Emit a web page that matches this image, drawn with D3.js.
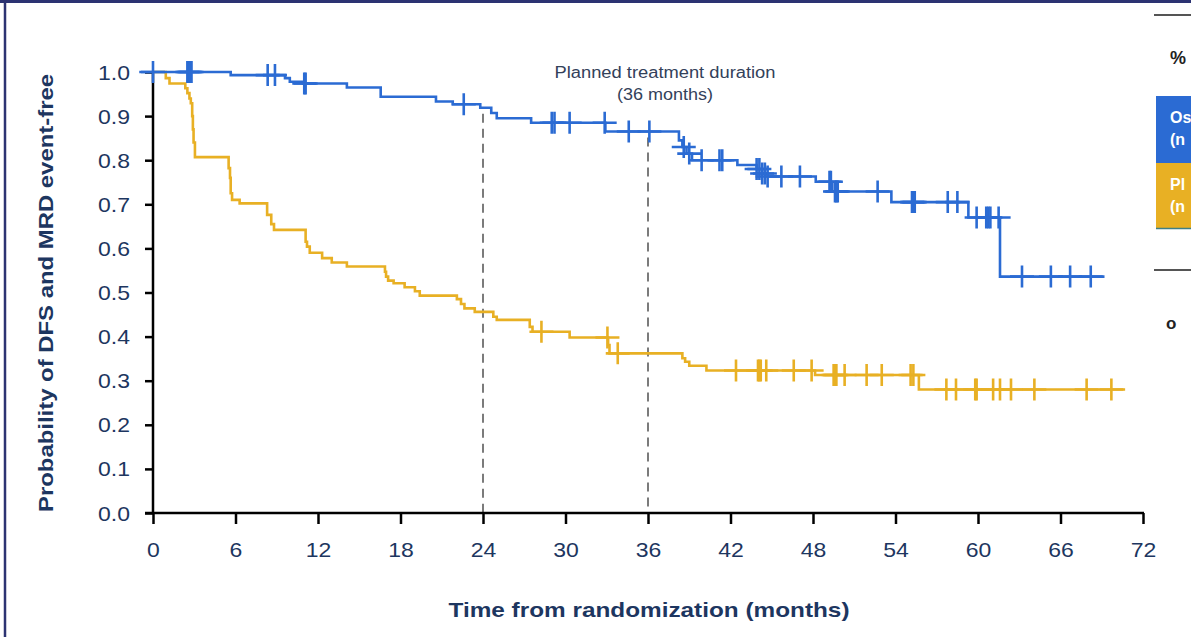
<!DOCTYPE html>
<html>
<head>
<meta charset="utf-8">
<script src="https://cdn.jsdelivr.net/npm/d3@7"></script>
<style>
  html, body { margin: 0; padding: 0; background: #fff; }
  svg { display: block; font-family: "Liberation Sans", Arial, sans-serif; }
</style>
</head>
<body>
<svg id="chart" width="1191" height="637"></svg>
<script>
// ---------------- data ----------------
const xTicks = [0, 6, 12, 18, 24, 30, 36, 42, 48, 54, 60, 66, 72];
const yTicks = [0, 0.1, 0.2, 0.3, 0.4, 0.5, 0.6, 0.7, 0.8, 0.9, 1.0];

// Osimertinib (blue) Kaplan-Meier steps: time of step, survival after step
const osiTime = [-1, 5.65, 9.6, 9.95, 10.9, 14.1, 16.56, 20.58, 21.8, 23.8, 24.6, 25.0, 27.5, 32.9, 38.25, 38.5, 38.8, 39.2, 42.5, 43.9, 44.3, 44.7, 48.2, 49.4, 53.7, 59.3, 61.6];
const osiSurv = [1.0, 0.993, 0.986, 0.978, 0.974, 0.965, 0.944, 0.933, 0.927, 0.919, 0.907, 0.895, 0.885, 0.865, 0.845, 0.83, 0.815, 0.80, 0.789, 0.78, 0.77, 0.763, 0.751, 0.729, 0.705, 0.67, 0.536];
const osiEnd = 69.2;
const osiCensor = [0, 2.5, 2.6, 2.7, 2.8, 8.34, 8.87, 11.0, 11.1, 22.6, 29.0, 29.2, 30.3, 32.85, 34.6, 36.1, 38.6, 39.0, 39.9, 41.2, 41.4, 43.9, 44.1, 44.3, 44.5, 44.7, 45.7, 47.05, 49.2, 49.3, 49.6, 49.7, 49.8, 52.7, 55.2, 55.3, 55.4, 57.8, 58.5, 59.9, 60.6, 60.75, 60.9, 61.5, 63.2, 65.3, 66.7, 68.2];

// Placebo (yellow)
const plcTime = [0, 0.93, 1.2, 2.35, 2.5, 2.65, 2.75, 2.85, 2.9, 2.95, 3.05, 5.5, 5.6, 5.65, 5.75, 6.3, 8.3, 8.6, 8.8, 11.1, 11.2, 11.4, 12.3, 13.0, 14.1, 16.87, 16.95, 17.1, 17.5, 18.3, 19.05, 19.4, 22.1, 22.4, 22.65, 23.4, 24.75, 25.0, 27.4, 27.6, 30.3, 33.1, 33.2, 38.5, 38.7, 39.0, 40.25, 48.15, 55.7];
const plcSurv = [1.0, 0.986, 0.974, 0.963, 0.952, 0.94, 0.929, 0.90, 0.87, 0.84, 0.807, 0.782, 0.76, 0.725, 0.71, 0.702, 0.676, 0.655, 0.642, 0.615, 0.604, 0.59, 0.578, 0.568, 0.559, 0.547, 0.536, 0.527, 0.521, 0.512, 0.503, 0.493, 0.485, 0.474, 0.464, 0.456, 0.445, 0.438, 0.422, 0.411, 0.398, 0.381, 0.362, 0.351, 0.343, 0.334, 0.323, 0.313, 0.28];
const plcEnd = 70.7;
const plcCensor = [28.25, 33.05, 33.8, 42.4, 44.0, 44.1, 44.2, 44.6, 46.6, 47.9, 49.5, 49.6, 49.7, 50.3, 51.9, 53.0, 55.1, 55.3, 57.7, 58.4, 59.8, 59.9, 61.1, 61.6, 62.4, 64.1, 67.9, 69.7];

const plannedMarks = [24, 36];
const annotationLines = ["Planned treatment duration", "(36 months)"];
const xTitle = "Time from randomization (months)";
const yTitle = "Probability of DFS and MRD event-free";
const tableHeader = "%";
const tableRows = [["Os", "(n"], ["Pl", "(n"]];
const tableFoot = "o";

// ---------------- drawing ----------------
const BLUE = "#2b6bd3", YELLOW = "#e8b024", NAVY = "#1d3660";
const svg = d3.select("#chart");
const x = d3.scaleLinear().domain([0, 72]).range([153, 1143]);
const y = d3.scaleLinear().domain([0, 1]).range([513, 72]);

// frame (top & left edge of a box)
svg.append("line").attr("x1", 0).attr("x2", 1191).attr("y1", 1.5).attr("y2", 1.5)
  .attr("stroke", "#2c3372").attr("stroke-width", 3);
svg.append("line").attr("x1", 5).attr("x2", 5).attr("y1", 0).attr("y2", 637)
  .attr("stroke", "#2c3372").attr("stroke-width", 2.5);

function stepAt(times, surv, t) {
  let v = surv[0];
  for (let i = 0; i < times.length; i++) { if (times[i] <= t) v = surv[i]; }
  return v;
}

// dashed planned lines
svg.append("g").selectAll("line").data(plannedMarks).join("line")
  .attr("x1", d => x(d)).attr("x2", d => x(d))
  .attr("y1", d => y(stepAt(osiTime, osiSurv, d)) + 6).attr("y2", y(0))
  .attr("stroke", "#7b7b7b").attr("stroke-width", 2).attr("stroke-dasharray", "9,6");

// axes
const yAxis = d3.axisLeft(y).tickValues(yTicks).tickFormat(d3.format(".1f")).tickSize(8).tickSizeOuter(0);
const xAxis = d3.axisBottom(x).tickValues(xTicks).tickSize(11).tickSizeOuter(0);
const gy = svg.append("g").attr("transform", "translate(153,0)").call(yAxis);
const gx = svg.append("g").attr("transform", "translate(0,513)").call(xAxis);
[gx, gy].forEach(g => {
  g.select(".domain").remove();
  g.selectAll(".tick line").attr("stroke", "#000").attr("stroke-width", 2.5);
  g.selectAll(".tick text").attr("fill", NAVY).attr("font-size", 20).attr("font-family", "Liberation Sans, Arial, sans-serif");
});
gy.selectAll(".tick text").attr("x", 0).attr("dy", "0.35em")
  .attr("transform", "translate(-23,0) scale(1.15,1)");
gx.selectAll(".tick text").attr("y", 0).attr("dy", "0.71em")
  .attr("transform", "translate(0,30) scale(1.15,1)");
svg.append("line").attr("x1", x(0)).attr("x2", x(0)).attr("y1", y(1)).attr("y2", y(0) + 1)
  .attr("stroke", "#000").attr("stroke-width", 2.5);
svg.append("line").attr("x1", x(0) - 8).attr("x2", x(72) + 1).attr("y1", y(0)).attr("y2", y(0))
  .attr("stroke", "#000").attr("stroke-width", 2.5);

// KM curves
const line = d3.line().x(d => x(d[0])).y(d => y(d[1])).curve(d3.curveStepAfter);
function series(times, surv, end, censor, color) {
  const pts = times.map((t, i) => [t, surv[i]]);
  pts.push([end, surv[surv.length - 1]]);
  const g = svg.append("g");
  g.append("path").attr("d", line(pts)).attr("fill", "none")
    .attr("stroke", color).attr("stroke-width", 2.6);
  g.selectAll("path.c").data(censor).join("path").attr("class", "c")
    .attr("d", t => {
      const cx = x(t), cy = y(stepAt(times, surv, t));
      return `M${cx - 12},${cy}H${cx + 12}M${cx},${cy - 11}V${cy + 11}`;
    })
    .attr("stroke", color).attr("stroke-width", 2.6).attr("fill", "none");
}
series(plcTime, plcSurv, plcEnd, plcCensor, YELLOW);
series(osiTime, osiSurv, osiEnd, osiCensor, BLUE);

// annotation
svg.append("text").attr("x", 665).attr("y", 78).attr("text-anchor", "middle")
  .attr("font-size", 16).attr("fill", "#33415a").attr("textLength", 221).attr("lengthAdjust", "spacingAndGlyphs")
  .text(annotationLines[0]);
svg.append("text").attr("x", 665).attr("y", 100).attr("text-anchor", "middle")
  .attr("font-size", 16).attr("fill", "#33415a").attr("textLength", 96).attr("lengthAdjust", "spacingAndGlyphs")
  .text(annotationLines[1]);

// axis titles
svg.append("text").attr("x", 649).attr("y", 617).attr("text-anchor", "middle")
  .attr("font-size", 21).attr("font-weight", "bold").attr("fill", NAVY)
  .attr("textLength", 401).attr("lengthAdjust", "spacingAndGlyphs").text(xTitle);
svg.append("text").attr("transform", "translate(53,293) rotate(-90)").attr("text-anchor", "middle")
  .attr("font-size", 20).attr("font-weight", "bold").attr("fill", NAVY)
  .attr("textLength", 438).attr("lengthAdjust", "spacingAndGlyphs").text(yTitle);

// right-hand table (cropped at the picture edge)
svg.append("line").attr("x1", 1154).attr("x2", 1191).attr("y1", 15).attr("y2", 15).attr("stroke", "#555").attr("stroke-width", 2);
svg.append("line").attr("x1", 1154).attr("x2", 1191).attr("y1", 270).attr("y2", 270).attr("stroke", "#555").attr("stroke-width", 2);
svg.append("text").attr("x", 1170).attr("y", 64).attr("font-size", 18).attr("font-weight", "bold").attr("fill", "#222").text(tableHeader);
const boxColors = [BLUE, YELLOW];
const boxTop = [96, 163];
tableRows.forEach((r, i) => {
  svg.append("rect").attr("x", 1156).attr("y", boxTop[i]).attr("width", 40).attr("height", i === 0 ? 67 : 65).attr("fill", boxColors[i]);
  svg.append("text").attr("x", 1170).attr("y", boxTop[i] + 27).attr("font-size", 16).attr("font-weight", "bold").attr("fill", "#fff").text(r[0]);
  svg.append("text").attr("x", 1170).attr("y", boxTop[i] + 49).attr("font-size", 16).attr("font-weight", "bold").attr("fill", "#fff").text(r[1]);
});
svg.append("line").attr("x1", 1156).attr("x2", 1191).attr("y1", 228.5).attr("y2", 228.5).attr("stroke", "#3f7f86").attr("stroke-width", 1.5);
svg.append("text").attr("x", 1166).attr("y", 329).attr("font-size", 17).attr("font-weight", "bold").attr("fill", "#222").text(tableFoot);
</script>
</body>
</html>
